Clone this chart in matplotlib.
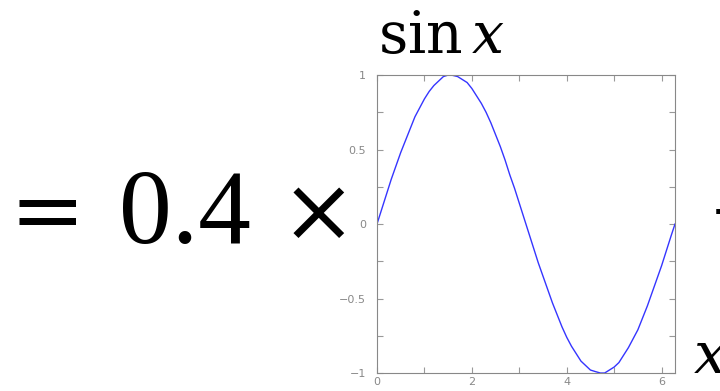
import numpy as np
import matplotlib
matplotlib.use("Agg")
import matplotlib.pyplot as plt
from matplotlib.ticker import MultipleLocator

plt.rcParams['mathtext.fontset'] = 'dejavuserif'

x_vals = [0.0, 0.1, 0.2, 0.3, 0.4, 0.5, 0.6, 0.7, 0.8, 0.9, 1.0, 1.1, 1.2, 1.3, 1.4, 1.5, 1.57,
          1.7, 1.8, 1.9, 2.0, 2.1, 2.2, 2.3, 2.4, 2.5, 2.6, 2.7, 2.8, 2.9, 3.0, 3.1,
          3.2, 3.3, 3.4, 3.5, 3.6, 3.7, 3.8, 3.9, 4.0, 4.1, 4.2, 4.3, 4.4, 4.5, 4.6, 4.71,
          4.8, 4.9, 5.0, 5.1, 5.2, 5.3, 5.4, 5.5, 5.6, 5.7, 5.8, 5.9, 6.0, 6.1, 6.2, 6.283]
y_vals = [0.00, 0.10, 0.20, 0.30, 0.39, 0.48, 0.56, 0.64, 0.72, 0.78, 0.84, 0.89, 0.93, 0.96, 0.99, 1.00, 1.00,
          0.99, 0.97, 0.95, 0.91, 0.86, 0.81, 0.75, 0.68, 0.60, 0.52, 0.43, 0.33, 0.24, 0.14, 0.04,
          -0.06, -0.16, -0.26, -0.35, -0.44, -0.53, -0.61, -0.69, -0.76, -0.82, -0.87, -0.92, -0.95, -0.98, -0.99, -1.00,
          -1.00, -0.98, -0.96, -0.93, -0.88, -0.83, -0.77, -0.71, -0.63, -0.55, -0.46, -0.37, -0.28, -0.18, -0.08, 0.00]
x_ticks = [0, 2, 4, 6]
y_ticks = [-1, -0.5, 0, 0.5, 1]
y_ticklabels = ['\u22121', '\u22120.5', '0', '0.5', '1']

fig = plt.figure(figsize=(7.2, 3.91), dpi=100)
ax = fig.add_axes([0.5236, 0.046, 0.4139, 0.762])

ax.plot(x_vals, y_vals, color='#3535ff', lw=1.0)
ax.set_xlim(0, 6.283)
ax.set_ylim(-1, 1)
ax.set_xticks(x_ticks)
ax.set_yticks(y_ticks)
ax.set_yticklabels(y_ticklabels)
ax.xaxis.set_minor_locator(MultipleLocator(1))
ax.yaxis.set_minor_locator(MultipleLocator(0.25))
ax.tick_params(which='both', direction='in', top=True, right=True, color='#999999',
               length=4, width=0.8, labelcolor='#888888', labelsize=8)
ax.tick_params(axis='x', pad=3)
ax.tick_params(axis='y', pad=8)
for s in ax.spines.values():
    s.set_color('#888888')
    s.set_linewidth(0.8)

# big equation pieces around the panel
sym = dict(fontsize=65, family='DejaVu Serif', va='baseline', ha='center')
fig.text(47 / 720, 1 - 241 / 391, '=', **sym)
fig.text(318 / 720, 1 - 241 / 391, '\u00d7', **sym)
fig.text(119 / 720, 1 - 243 / 391, '0.4', fontsize=76, family='Liberation Serif',
         va='baseline', ha='left')
fig.text(711 / 720, 1 - 247 / 391, '+', fontsize=76, family='Liberation Serif', va='baseline', ha='left')
fig.text(378 / 720, 1 - 53 / 391, r'$\sin x$', fontsize=41, va='baseline', ha='left')
fig.text(693 / 720, 1 - 373 / 391, r'$x$', fontsize=42, va='baseline', ha='left')

fig.savefig('out.png', dpi=100)
